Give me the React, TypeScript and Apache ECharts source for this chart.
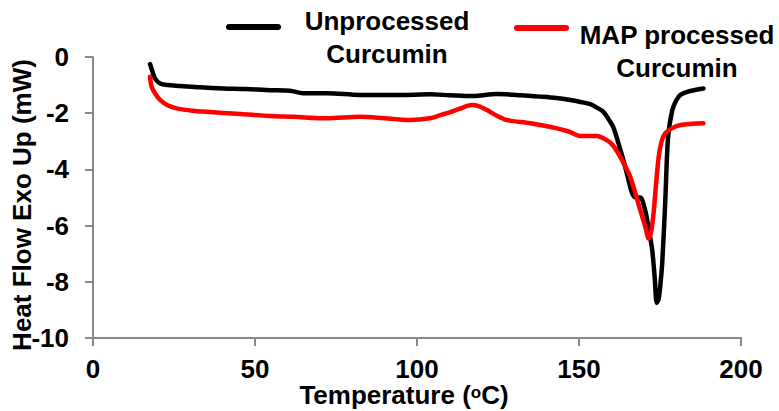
import React, { useEffect, useRef } from "react";
import * as echarts from "echarts";

const xTicks = [0, 50, 100, 150, 200];
const yTicks = [0, -2, -4, -6, -8, -10];

const unprocessedTemp = [17.6, 18.3, 19.1, 20.7, 23, 26.9, 33, 40.2, 47, 54.7, 60.8, 64.8, 72.3, 82.4, 95, 104, 110, 117.3, 124.7, 132, 138, 143, 147.3, 150.5, 153.5, 155.5, 157.5, 159.6, 160.6, 162, 163.7, 165, 166.4, 167.5, 168.9, 170.4, 171.5, 172.6, 173.4, 174.0, 174.6, 175.2, 175.7, 176.6, 177.5, 178.8, 180, 181.3, 184, 188.4];
const unprocessedHeat = [-0.25, -0.5, -0.76, -0.94, -1.0, -1.03, -1.08, -1.12, -1.14, -1.18, -1.2, -1.29, -1.29, -1.35, -1.35, -1.33, -1.36, -1.39, -1.32, -1.36, -1.41, -1.46, -1.53, -1.6, -1.68, -1.8, -1.95, -2.3, -2.5, -3.0, -3.67, -4.25, -4.85, -5.0, -5.0, -5.45, -6.1, -6.88, -7.9, -8.75, -8.6, -8.0, -7.3, -5.2, -2.85, -1.89, -1.55, -1.35, -1.22, -1.12];

const mapTemp = [17.6, 18.1, 19.2, 20.7, 23, 25.8, 30, 35.1, 45.4, 54.7, 61.8, 72.3, 82.4, 90, 97.9, 104, 107, 109.2, 113, 116.9, 119, 121.6, 124.5, 127.7, 134.9, 143.2, 147, 150.4, 155.5, 158.6, 160.5, 162.7, 165.8, 168.9, 170.5, 171.5, 172.3, 173, 173.8, 174.6, 175.5, 176.6, 178.5, 181.3, 188.4];
const mapHeat = [-0.7, -1.06, -1.3, -1.53, -1.72, -1.83, -1.9, -1.95, -2.03, -2.1, -2.13, -2.18, -2.13, -2.18, -2.24, -2.18, -2.08, -2.0, -1.85, -1.71, -1.75, -1.89, -2.08, -2.24, -2.36, -2.54, -2.66, -2.81, -2.81, -2.96, -3.15, -3.55, -4.26, -5.45, -6.05, -6.46, -6.2, -5.57, -4.5, -3.55, -3.0, -2.72, -2.55, -2.42, -2.36];

const seriesNames = ["Unprocessed\nCurcumin", "MAP processed\nCurcumin"];
const seriesColors = ["#000000", "#ff0000"];

const FONT = "'Liberation Sans', Arial, sans-serif";

export default function App() {
  const ref = useRef<HTMLDivElement>(null);
  useEffect(() => {
    if (!ref.current) return;
    const chart = echarts.init(ref.current, null, { renderer: "svg" });
    const legendText = (text: string, x: number, y: number) => ({
      type: "text",
      x,
      y,
      style: {
        text,
        align: "center",
        verticalAlign: "middle",
        fontSize: 26,
        fontWeight: "bold",
        fontFamily: FONT,
        lineHeight: 33,
        fill: "#000",
      },
    });
    const legendLine = (x1: number, x2: number, y: number, color: string) => ({
      type: "line",
      shape: { x1, y1: y, x2, y2: y },
      style: { stroke: color, lineWidth: 6, lineCap: "round" },
    });
    chart.setOption({
      animation: false,
      backgroundColor: "#ffffff",
      textStyle: { fontFamily: FONT },
      grid: { left: 93, right: 38, top: 57, bottom: 73, containLabel: false, outerBoundsMode: "none" },
      graphic: [
        legendLine(229, 278, 27, seriesColors[0]),
        legendText(seriesNames[0], 387, 37),
        legendLine(517, 566, 28, seriesColors[1]),
        legendText(seriesNames[1], 677, 51),
      ],
      xAxis: {
        type: "value",
        min: xTicks[0],
        max: xTicks[xTicks.length - 1],
        interval: 50,
        name: "Temperature ({sup|o}C)",
        nameLocation: "middle",
        nameGap: 46,
        nameMoveOverlap: false,
        nameTextStyle: {
          fontSize: 26,
          fontWeight: "bold",
          color: "#000",
          fontFamily: FONT,
          lineHeight: 22,
          padding: [0, 26, 0, 0],
          rich: {
            sup: { fontSize: 17, fontWeight: "bold", lineHeight: 22, verticalAlign: "top", color: "#000", fontFamily: FONT },
          },
        },
        axisLine: { show: true, onZero: false, lineStyle: { color: "#898989", width: 2 } },
        axisTick: { show: true, inside: false, length: 8, lineStyle: { color: "#898989", width: 2 } },
        splitLine: { show: false },
        axisLabel: { margin: 18, fontSize: 26, fontWeight: "bold", color: "#000", fontFamily: FONT },
      },
      yAxis: {
        type: "value",
        min: yTicks[yTicks.length - 1],
        max: yTicks[0],
        interval: 2,
        name: "Heat Flow Exo Up (mW)",
        nameLocation: "middle",
        nameGap: 58,
        nameMoveOverlap: false,
        nameTextStyle: {
          fontSize: 26,
          fontWeight: "bold",
          color: "#000",
          fontFamily: FONT,
          padding: [0, 15, 0, 0],
        },
        axisLine: { show: true, onZero: false, lineStyle: { color: "#898989", width: 2 } },
        axisTick: { show: true, inside: false, length: 8, lineStyle: { color: "#898989", width: 2 } },
        splitLine: { show: false },
        axisLabel: { margin: 24, fontSize: 26, fontWeight: "bold", color: "#000", fontFamily: FONT },
      },
      series: [
        {
          name: seriesNames[0],
          type: "line",
          showSymbol: false,
          symbol: "none",
          smooth: 0.3,
          data: unprocessedTemp.map((t, i) => [t, unprocessedHeat[i]]),
          lineStyle: { color: seriesColors[0], width: 4.5, cap: "round", join: "round" },
          itemStyle: { color: seriesColors[0] },
          z: 2,
        },
        {
          name: seriesNames[1],
          type: "line",
          showSymbol: false,
          symbol: "none",
          smooth: 0.3,
          data: mapTemp.map((t, i) => [t, mapHeat[i]]),
          lineStyle: { color: seriesColors[1], width: 4.5, cap: "round", join: "round" },
          itemStyle: { color: seriesColors[1] },
          z: 3,
        },
      ],
    });
    return () => chart.dispose();
  }, []);
  return (
    <div
      ref={ref}
      style={{ position: "fixed", left: 0, top: 0, width: 779, height: 411 }}
    />
  );
}
